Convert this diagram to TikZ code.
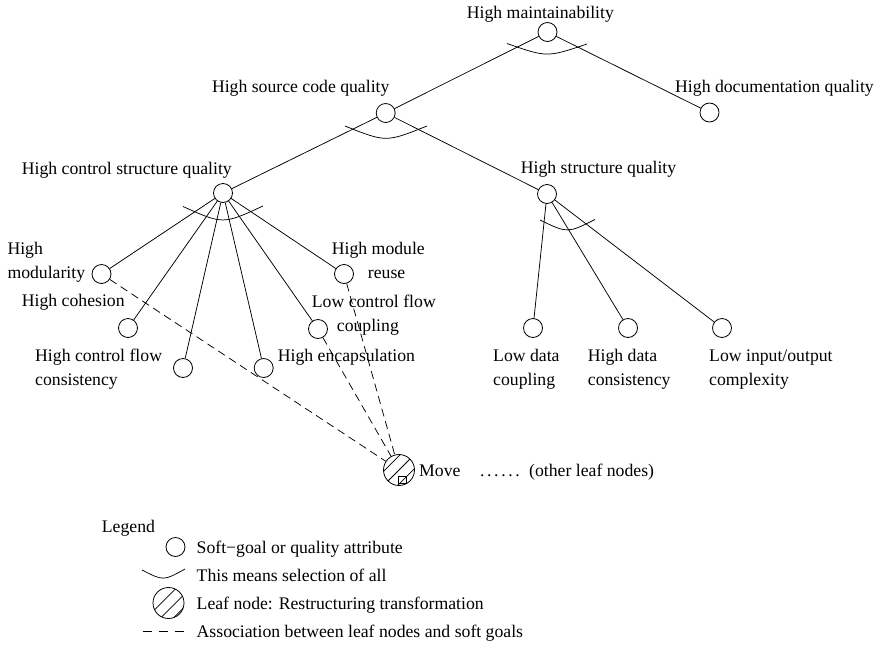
\documentclass[tikz,border=0pt]{standalone}
\usepackage{fontspec}
\setmainfont{Liberation Serif}
\begin{document}
\begin{tikzpicture}[x=1pt,y=-1pt,
  every node/.style={font=\fontsize{17.7}{24}\selectfont},
  goal/.style={circle,draw,line width=0.8pt,minimum size=19pt,inner sep=0pt},
  leaf/.style={circle,draw,line width=0.8pt,minimum size=31pt,inner sep=0pt},
  lbl/.style={inner sep=0pt,anchor=base west,align=left},
  edge/.style={line width=0.75pt},
  assoc/.style={line width=0.75pt,dash pattern=on 8pt off 5pt},
  andarc/.style={line width=0.75pt},
  hatchmove/.style={path picture={
    \draw[line width=0.75pt] ([shift={(-21.2pt,-7.07pt)}]path picture bounding box.center) -- ([shift={(7.07pt,21.2pt)}]path picture bounding box.center);
    \draw[line width=0.75pt] ([shift={(-14.1pt,-14.1pt)}]path picture bounding box.center) -- ([shift={(14.1pt,14.1pt)}]path picture bounding box.center);
    \draw[line width=0.75pt] ([shift={(-7.07pt,-21.2pt)}]path picture bounding box.center) -- ([shift={(21.2pt,7.07pt)}]path picture bounding box.center);
    \draw[line width=0.75pt] ([shift={(-0.5pt,-6pt)}]path picture bounding box.center) rectangle ([shift={(7pt,-13.5pt)}]path picture bounding box.center);
  }},
  hatchlegend/.style={path picture={
    \draw[line width=0.75pt] ([shift={(-17.7pt,-10.6pt)}]path picture bounding box.center) -- ([shift={(10.6pt,17.7pt)}]path picture bounding box.center);
    \draw[line width=0.75pt] ([shift={(-10.6pt,-17.7pt)}]path picture bounding box.center) -- ([shift={(17.7pt,10.6pt)}]path picture bounding box.center);
    \draw[line width=0.75pt] ([shift={(-4.2pt,-24pt)}]path picture bounding box.center) -- ([shift={(24pt,4.2pt)}]path picture bounding box.center);
  }}]
\useasboundingbox (0,0) rectangle (880,648);

% goal nodes
\node[goal] (hm)   at (547.5,32) {};
\node[goal] (hdq)  at (709.5,112.5) {};
\node[goal] (hscq) at (385.7,113) {};
\node[goal] (hcsq) at (223,193) {};
\node[goal] (hsq)  at (547,194) {};
\node[goal] (hmod) at (101.5,274) {};
\node[goal] (hmr)  at (344,274) {};
\node[goal] (hcoh) at (128,328) {};
\node[goal] (lcfc) at (318,329) {};
\node[goal] (hcfc) at (183,368) {};
\node[goal] (henc) at (263.7,368) {};
\node[goal] (ldc)  at (533,328) {};
\node[goal] (hdc)  at (628,328) {};
\node[goal] (lioc) at (722,328) {};
\node[leaf,hatchmove] (move) at (399,470) {};

% labels (multi-line labels: base = last line)
\node[lbl] (thm)   at (466.7,18.3) {High maintainability};
\node[lbl] (thdq)  at (675,92.7) {High documentation quality};
\node[lbl] (thscq) at (211.8,92) {High source code quality};
\node[lbl] (thcsq) at (21.7,174) {High control structure quality};
\node[lbl] (thsq)  at (520.7,173) {High structure quality};
\node[lbl] (thmod) at (7.3,278) {High\\modularity};
\node[lbl] (thmr)  at (331.7,278) {High module\\\hspace*{36pt}reuse};
\node[lbl] (thcoh) at (21.7,306) {High cohesion};
\node[lbl] (tlcfc) at (311.7,331) {Low control flow\\\hspace*{25pt}coupling};
\node[lbl] (thcfc) at (35,385.7) {High control flow\\consistency};
\node[lbl] (thenc) at (277.7,361.7) {High encapsulation};
\node[lbl] (tldc)  at (493,385.7) {Low data\\coupling};
\node[lbl] (thdc)  at (587.7,385.7) {High data\\consistency};
\node[lbl] (tlioc) at (709,385.7) {Low input/output\\complexity};
\node[lbl] (tmove) at (419,476.5) {Move};
\node[lbl] (tdots) at (480,476.5) {.\hspace{2.6pt}.\hspace{2.6pt}.\hspace{2.6pt}.\hspace{2.6pt}.\hspace{2.6pt}.};
\node[lbl] (tother) at (529,476.5) {(other leaf nodes)};

% tree edges
\draw[edge] (hm) -- (hscq);
\draw[edge] (hm) -- (hdq);
\draw[edge] (hscq) -- (hcsq);
\draw[edge] (hscq) -- (hsq);
\foreach \c in {hmod,hcoh,hcfc,henc,lcfc,hmr} \draw[edge] (hcsq) -- (\c);
\foreach \c in {ldc,hdc,lioc} \draw[edge] (hsq) -- (\c);

% and-arcs
\draw[andarc] (507,43.5) .. controls (547,57.5) .. (587,44);
\draw[andarc] (345,126) .. controls (386,142.4) .. (427,126);
\draw[andarc] (183,206.5) .. controls (223,224.5) .. (263,206);
\draw[andarc] (540,220) .. controls (567.5,233.3) .. (595,219.5);

% associations
\draw[assoc] (hmod) -- (move);
\draw[assoc] (lcfc) -- (move);
\draw[assoc] (hmr) -- (move);

% legend
\node[lbl] (tleg) at (101.7,532) {Legend};
\node[goal] (lgoal) at (175.5,547) {};
\node[lbl] (tlgoal) at (196.5,553) {Soft−goal or quality attribute};
\coordinate (la1) at (142,570);
\coordinate (la2) at (185,569);
\draw[andarc] (la1) .. controls (163.5,581) .. (la2);
\node[lbl] (tlarc) at (196.5,581) {This means selection of all};
\node[leaf,hatchlegend] (lleaf) at (168.5,603) {};
\node[lbl] (tlleaf) at (196.5,609) {Leaf node: Restructuring transformation};
\coordinate (ld1) at (143,631);
\coordinate (ld2) at (190,631);
\draw[line width=0.75pt,dash pattern=on 9pt off 7pt] (ld1) -- (ld2);
\node[lbl] (tlassoc) at (196.5,637) {Association between leaf nodes and soft goals};
\end{tikzpicture}
\end{document}
